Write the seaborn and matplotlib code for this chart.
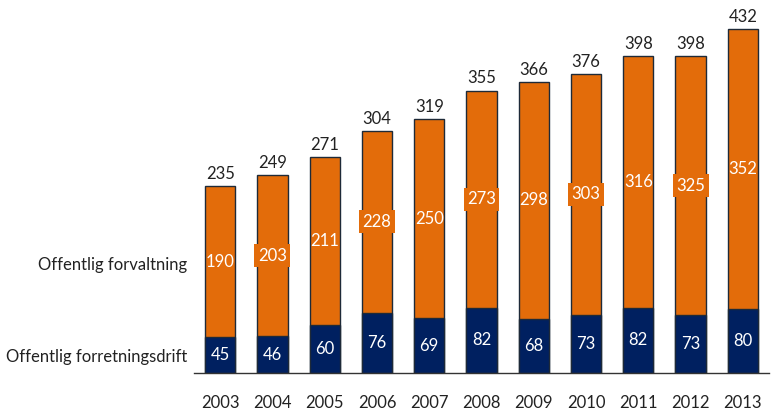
import numpy as np
import pandas as pd
import matplotlib
matplotlib.use("Agg")
from matplotlib import pyplot as plt
import seaborn as sns

# Data
years = ["2003", "2004", "2005", "2006", "2007", "2008", "2009", "2010", "2011", "2012", "2013"]
forretningsdrift = [45, 46, 60, 76, 69, 82, 68, 73, 82, 73, 80]
forvaltning = [190, 203, 211, 228, 250, 273, 298, 303, 316, 325, 352]
totals = [a + b for a, b in zip(forretningsdrift, forvaltning)]

orange = "#E36C0A"
navy = "#002060"
edge = "#1E2A38"

sns.set_style("white")
plt.rcParams["font.family"] = ["Lato", "DejaVu Sans"]

df = pd.DataFrame({"year": years, "drift": forretningsdrift, "forv": forvaltning, "total": totals})

fig = plt.figure(figsize=(7.76, 4.12), dpi=100)
ax = fig.add_axes([194 / 776, 39 / 412, 575 / 776, 358 / 412])

# Total bar (orange) then the lower part (navy) over it
sns.barplot(data=df, x="year", y="total", color=orange, saturation=1, width=0.58,
            edgecolor=edge, linewidth=1, ax=ax)
sns.barplot(data=df, x="year", y="drift", color=navy, saturation=1, width=0.58,
            edgecolor=edge, linewidth=1, ax=ax)

tot_bars = ax.containers[0]
drift_bars = ax.containers[1]

fs = 12
# total labels above
ax.bar_label(tot_bars, labels=[str(t) for t in totals], padding=3, fontsize=fs, color="#222222")

# orange segment labels (centre of the orange part)
boxed = {"203", "228", "273", "303", "325"}
for i, (d, f) in enumerate(zip(forretningsdrift, forvaltning)):
    t = ax.text(i, d + f / 2, str(f), ha="center", va="center", color="white", fontsize=fs)
    if str(f) in boxed:
        t.set_bbox(dict(facecolor=orange, edgecolor="none", pad=2.5))

# navy labels
ax.bar_label(drift_bars, labels=[str(d) for d in forretningsdrift], label_type="center",
             color="white", fontsize=fs)

ax.set_xlim(-0.5, 10.5)
ax.set_ylim(0, 450)
ax.set_xlabel("")
ax.set_ylabel("")

# series names as y tick labels
ax.set_yticks([22, 138])
ax.set_yticklabels(["Offentlig forretningsdrift", "Offentlig forvaltning"], fontsize=fs, color="#222222")
ax.tick_params(axis="y", length=0, pad=5)
ax.tick_params(axis="x", length=0, pad=16, labelsize=fs, labelcolor="#222222")

for s in ["top", "right", "left"]:
    ax.spines[s].set_visible(False)
ax.spines["bottom"].set_color("#333333")
ax.spines["bottom"].set_linewidth(1)

fig.savefig("out.png", dpi=100)
